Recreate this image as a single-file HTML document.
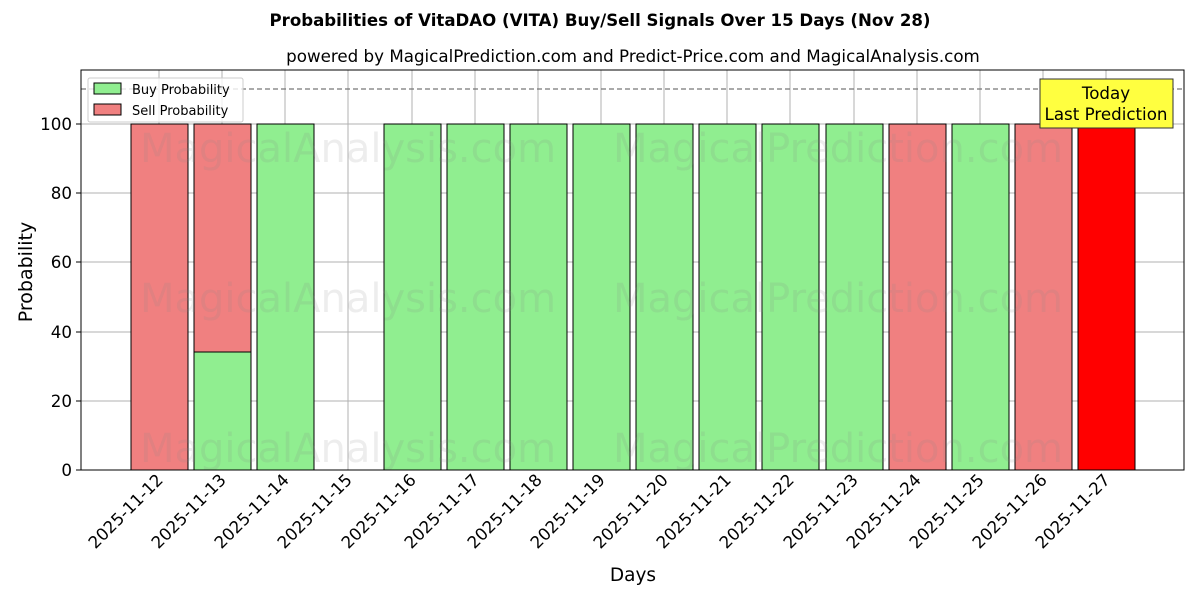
<!DOCTYPE html>
<html><head><style>body{margin:0;background:#fff}svg{display:block}text{font-family:"DejaVu Sans","Liberation Sans",sans-serif}</style></head><body>
<svg width="1200" height="600" xmlns="http://www.w3.org/2000/svg">
<text x="600" y="26" font-size="16.6" font-weight="bold" text-anchor="middle">Probabilities of VitaDAO (VITA) Buy/Sell Signals Over 15 Days (Nov 28)</text>
<text x="633" y="62" font-size="16.7" text-anchor="middle">powered by MagicalPrediction.com and Predict-Price.com and MagicalAnalysis.com</text>
<g stroke="#b0b0b0" stroke-width="1">
<line x1="81" x2="1184" y1="470" y2="470"/><line x1="81" x2="1184" y1="401" y2="401"/><line x1="81" x2="1184" y1="332" y2="332"/><line x1="81" x2="1184" y1="262" y2="262"/><line x1="81" x2="1184" y1="193" y2="193"/><line x1="81" x2="1184" y1="124" y2="124"/>
<line x1="159" x2="159" y1="70" y2="470"/><line x1="222" x2="222" y1="70" y2="470"/><line x1="285" x2="285" y1="70" y2="470"/><line x1="348" x2="348" y1="70" y2="470"/><line x1="412" x2="412" y1="70" y2="470"/><line x1="475" x2="475" y1="70" y2="470"/><line x1="538" x2="538" y1="70" y2="470"/><line x1="601" x2="601" y1="70" y2="470"/><line x1="664" x2="664" y1="70" y2="470"/><line x1="727" x2="727" y1="70" y2="470"/><line x1="790" x2="790" y1="70" y2="470"/><line x1="854" x2="854" y1="70" y2="470"/><line x1="917" x2="917" y1="70" y2="470"/><line x1="980" x2="980" y1="70" y2="470"/><line x1="1043" x2="1043" y1="70" y2="470"/><line x1="1106" x2="1106" y1="70" y2="470"/>
</g>
<g stroke="#000" stroke-width="1">
<rect x="131" y="124" width="57" height="346" fill="#f08080"/>
<rect x="194" y="352" width="57" height="118" fill="#90ee90"/>
<rect x="194" y="124" width="57" height="228" fill="#f08080"/>
<rect x="257" y="124" width="57" height="346" fill="#90ee90"/>
<rect x="384" y="124" width="57" height="346" fill="#90ee90"/>
<rect x="447" y="124" width="57" height="346" fill="#90ee90"/>
<rect x="510" y="124" width="57" height="346" fill="#90ee90"/>
<rect x="573" y="124" width="57" height="346" fill="#90ee90"/>
<rect x="636" y="124" width="57" height="346" fill="#90ee90"/>
<rect x="699" y="124" width="57" height="346" fill="#90ee90"/>
<rect x="762" y="124" width="57" height="346" fill="#90ee90"/>
<rect x="826" y="124" width="57" height="346" fill="#90ee90"/>
<rect x="889" y="124" width="57" height="346" fill="#f08080"/>
<rect x="952" y="124" width="57" height="346" fill="#90ee90"/>
<rect x="1015" y="124" width="57" height="346" fill="#f08080"/>
<rect x="1078" y="124" width="57" height="346" fill="#ff0000"/>
</g>
<g font-size="40" fill="#888" fill-opacity="0.15" text-anchor="middle">
<text x="348" y="162">MagicalAnalysis.com</text><text x="838" y="162">MagicalPrediction.com</text>
<text x="348" y="312">MagicalAnalysis.com</text><text x="838" y="312">MagicalPrediction.com</text>
<text x="348" y="462">MagicalAnalysis.com</text><text x="838" y="462">MagicalPrediction.com</text>
</g>
<line x1="81" x2="1184" y1="89" y2="89" stroke="#777" stroke-dasharray="5,3" stroke-width="1.2"/>
<rect x="81" y="70" width="1103" height="400" fill="none" stroke="#000" stroke-width="1"/>
<rect x="1040" y="79" width="133" height="49" fill="#ffff40" stroke="#333"/>
<text x="1106" y="99" font-size="16.7" text-anchor="middle">Today</text>
<text x="1106" y="120" font-size="16.7" text-anchor="middle">Last Prediction</text>
<rect x="88" y="78" width="155" height="44" fill="#fff" fill-opacity="0.8" stroke="#ccc" rx="2"/>
<rect x="94" y="83" width="27" height="11" fill="#90ee90" stroke="#000"/><text x="132" y="94" font-size="13">Buy Probability</text>
<rect x="94" y="104" width="27" height="11" fill="#f08080" stroke="#000"/><text x="132" y="115" font-size="13">Sell Probability</text>
<g font-size="16.7" text-anchor="end">
<text x="72" y="476">0</text><text x="72" y="407">20</text><text x="72" y="338">40</text><text x="72" y="268">60</text><text x="72" y="199">80</text><text x="72" y="130">100</text>
</g>
<g stroke="#000"><line x1="76" x2="81" y1="470" y2="470"/><line x1="76" x2="81" y1="401" y2="401"/><line x1="76" x2="81" y1="332" y2="332"/><line x1="76" x2="81" y1="262" y2="262"/><line x1="76" x2="81" y1="193" y2="193"/><line x1="76" x2="81" y1="124" y2="124"/></g>
<text transform="translate(32,272) rotate(-90)" font-size="19" text-anchor="middle">Probability</text>
<text x="633" y="581" font-size="18.5" text-anchor="middle">Days</text>
<g font-size="16.7" text-anchor="end">
<text transform="translate(164,481) rotate(-45)">2025-11-12</text>
<text transform="translate(227,481) rotate(-45)">2025-11-13</text>
<text transform="translate(290,481) rotate(-45)">2025-11-14</text>
<text transform="translate(353,481) rotate(-45)">2025-11-15</text>
<text transform="translate(417,481) rotate(-45)">2025-11-16</text>
<text transform="translate(480,481) rotate(-45)">2025-11-17</text>
<text transform="translate(543,481) rotate(-45)">2025-11-18</text>
<text transform="translate(606,481) rotate(-45)">2025-11-19</text>
<text transform="translate(669,481) rotate(-45)">2025-11-20</text>
<text transform="translate(732,481) rotate(-45)">2025-11-21</text>
<text transform="translate(795,481) rotate(-45)">2025-11-22</text>
<text transform="translate(859,481) rotate(-45)">2025-11-23</text>
<text transform="translate(922,481) rotate(-45)">2025-11-24</text>
<text transform="translate(985,481) rotate(-45)">2025-11-25</text>
<text transform="translate(1048,481) rotate(-45)">2025-11-26</text>
<text transform="translate(1111,481) rotate(-45)">2025-11-27</text>
</g>
</svg>
</body></html>
